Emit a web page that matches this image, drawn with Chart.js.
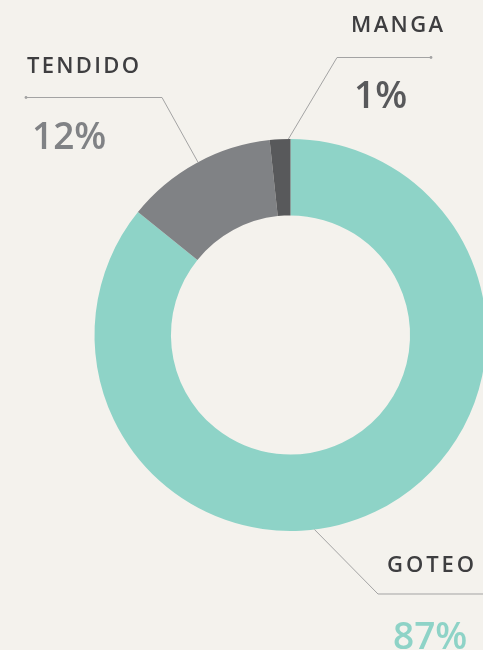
<!DOCTYPE html>
<html>
<head>
<meta charset="utf-8">
<script src="https://cdn.jsdelivr.net/npm/chart.js@4/dist/chart.umd.min.js"></script>
<style>
  html, body { margin: 0; padding: 0; background: #f4f2ed; overflow: hidden; width: 483px; height: 650px; }
  #wrap { position: absolute; left: 0; top: 0; width: 580px; height: 650px; }
</style>
</head>
<body>
<div id="wrap"><canvas id="c" width="580" height="650"></canvas></div>
<script>
// ---- data ----
const categories = ['GOTEO', 'TENDIDO', 'MANGA'];
const shares = [85.8, 12.5, 1.7];          // slice sizes
const shareLabels = ['87%', '12%', '1%'];   // printed labels
const sliceColors = ['#8ed3c7', '#808285', '#58595b'];

// ---- label layout (annotation text + leader lines) ----
const labelLayout = [
  { // GOTEO
    t: 0.56,
    path: [[378, 594], [483, 594]],
    name: { x: 387, y: 572, w: 87 },
    pct: { x: 393, y: 649 },
    dot: false
  },
  { // TENDIDO
    t: 0.51,
    path: [[162, 97.5], [26, 97.5]],
    name: { x: 27, y: 73, w: 112 },
    pct: { x: 32, y: 149 },
    dot: true
  },
  { // MANGA
    t: 0.9,
    path: [[337, 57.5], [431, 57.5]],
    name: { x: 351, y: 32, w: 92 },
    pct: { x: 354, y: 108 },
    dot: true
  }
];

function drawSpaced(ctx, text, x, y, targetW) {
  const chars = [...text];
  let total = 0;
  const ws = chars.map(ch => { const w = ctx.measureText(ch).width; total += w; return w; });
  const sp = chars.length > 1 ? (targetW - total) / (chars.length - 1) : 0;
  let cx = x;
  chars.forEach((ch, i) => { ctx.fillText(ch, cx, y); cx += ws[i] + sp; });
}

const labelPlugin = {
  id: 'leaderLabels',
  afterDatasetsDraw(chart) {
    const ctx = chart.ctx;
    const meta = chart.getDatasetMeta(0);
    ctx.save();
    meta.data.forEach((arc, i) => {
      const L = labelLayout[i];
      const p = arc.getProps(['x', 'y', 'startAngle', 'endAngle', 'outerRadius'], true);
      const a = p.startAngle + (p.endAngle - p.startAngle) * L.t;
      const ax = p.x + Math.cos(a) * p.outerRadius;
      const ay = p.y + Math.sin(a) * p.outerRadius;
      ctx.strokeStyle = '#a3a3a3';
      ctx.lineWidth = 1;
      ctx.beginPath();
      ctx.moveTo(ax, ay);
      L.path.forEach(pt => ctx.lineTo(pt[0], pt[1]));
      ctx.stroke();
      if (L.dot) {
        const e = L.path[L.path.length - 1];
        ctx.fillStyle = '#a3a3a3';
        ctx.beginPath(); ctx.arc(e[0], e[1], 1.4, 0, Math.PI * 2); ctx.fill();
      }
      // name
      ctx.fillStyle = '#3e3e40';
      ctx.font = '600 22px "Open Sans", Lato, sans-serif';
      ctx.textBaseline = 'alphabetic';
      ctx.textAlign = 'left';
      drawSpaced(ctx, categories[i], L.name.x, L.name.y, L.name.w);
      // percentage
      ctx.fillStyle = sliceColors[i];
      ctx.font = '600 37px "Open Sans", Lato, sans-serif';
      ctx.fillText(shareLabels[i], L.pct.x, L.pct.y);
    });
    ctx.restore();
  }
};

new Chart(document.getElementById('c'), {
  type: 'doughnut',
  data: {
    labels: categories,
    datasets: [{
      data: shares,
      backgroundColor: sliceColors,
      borderWidth: 0,
      hoverOffset: 0
    }]
  },
  options: {
    responsive: false,
    animation: false,
    cutout: '61%',
    layout: { padding: { left: 94.5, right: 93.5, top: 139, bottom: 119 } },
    plugins: { legend: { display: false }, tooltip: { enabled: false } }
  },
  plugins: [labelPlugin]
});
</script>
</body>
</html>
